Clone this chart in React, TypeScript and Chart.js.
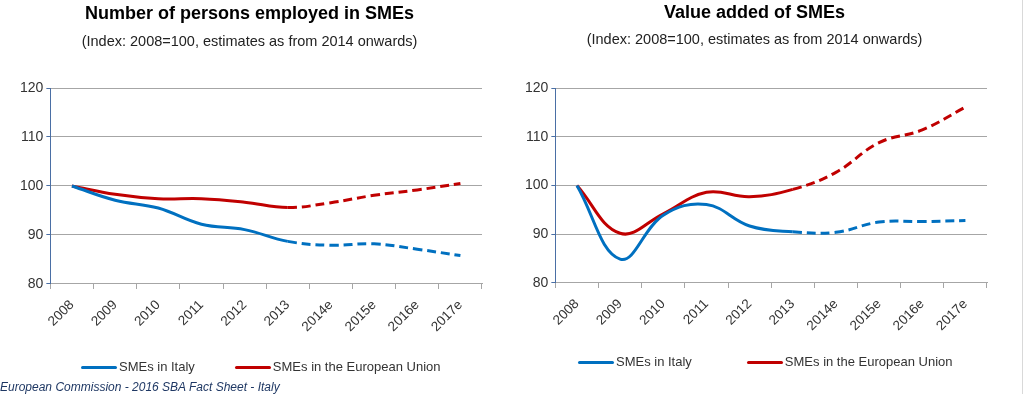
import React, { useEffect, useRef } from "react";
import { Chart, registerables } from "chart.js";

Chart.register(...registerables);

const categories = ["2008", "2009", "2010", "2011", "2012", "2013", "2014e", "2015e", "2016e", "2017e"];
const employmentItaly = [100, 97.1, 95.5, 92.2, 91.1, 88.7, 87.9, 88.2, 87.1, 85.8];
const employmentEU = [100, 98.3, 97.4, 97.4, 96.7, 95.6, 96.6, 98.1, 99.2, 100.5];
const valueAddedItaly = [100, 84.9, 93.9, 96.1, 91.7, 90.5, 90.4, 92.5, 92.6, 92.8];
const valueAddedEU = [100, 90.2, 94.2, 98.6, 97.7, 99.2, 102.7, 108.8, 111.4, 116.1];
const yMin = 80;
const yMax = 120;
const yStep = 10;
const seriesNames = ["SMEs in Italy", "SMEs in the European Union"];
const lastActualIndex = 5;

const FONT = "'Liberation Sans', Arial, sans-serif";
const BLUE = "#0070C0";
const RED = "#C00000";

type PanelProps = {
  width: number;
  height: number;
  title: string;
  subtitle: string;
  italy: number[];
  eu: number[];
  pad: { left: number; right: number; bottom: number };
  titlePad: { top: number; bottom: number };
  subPad: { top: number; bottom: number };
};

function Panel(props: PanelProps) {
  const ref = useRef<HTMLCanvasElement | null>(null);
  useEffect(() => {
    if (!ref.current) return;
    const seg = {
      borderDash: (ctx: any) => (ctx.p0DataIndex >= lastActualIndex ? [9, 5] : undefined),
    };
    const chart = new Chart(ref.current, {
      type: "line",
      data: {
        labels: categories,
        datasets: [
          {
            label: seriesNames[0],
            data: props.italy,
            borderColor: BLUE,
            backgroundColor: BLUE,
            borderWidth: 3,
            pointRadius: 0,
            tension: 0.4,
            segment: seg,
          },
          {
            label: seriesNames[1],
            data: props.eu,
            borderColor: RED,
            backgroundColor: RED,
            borderWidth: 3,
            pointRadius: 0,
            tension: 0.4,
            segment: seg,
          },
        ],
      },
      options: {
        responsive: false,
        animation: false,
        devicePixelRatio: 1,
        layout: { padding: { left: props.pad.left, right: props.pad.right, bottom: props.pad.bottom, top: 0 } },
        plugins: {
          legend: { display: false },
          tooltip: { enabled: false },
          title: {
            display: true,
            text: props.title,
            color: "#000",
            font: { family: FONT, size: 18, weight: "bold" },
            padding: props.titlePad,
          },
          subtitle: {
            display: true,
            text: props.subtitle,
            color: "#222",
            font: { family: FONT, size: 14.5 },
            padding: props.subPad,
          },
        },
        scales: {
          x: {
            offset: true,
            grid: {
              display: true,
              offset: true,
              drawOnChartArea: false,
              drawTicks: true,
              tickLength: 5,
              color: "#A6A6A6",
            },
            border: { color: "#A6A6A6", width: 1 },
            ticks: {
              color: "#333",
              font: { family: FONT, size: 13.5 },
              minRotation: 45,
              maxRotation: 45,
              padding: 8,
              autoSkip: false,
            },
          },
          y: {
            min: yMin,
            max: yMax,
            grid: {
              color: "#A6A6A6",
              tickColor: "#4A6FA5",
              tickLength: 4,
              lineWidth: 1,
            },
            border: { color: "#4A6FA5", width: 1 },
            ticks: {
              stepSize: yStep,
              color: "#333",
              font: { family: FONT, size: 14 },
              padding: 3,
            },
          },
        },
      },
    } as any);
    return () => chart.destroy();
  }, []);
  return <canvas ref={ref} width={props.width} height={props.height} style={{ display: "block" }} />;
}

function Legend({ left, top, gap }: { left: number; top: number; gap: number }) {
  const colors = [BLUE, RED];
  return (
    <div
      style={{
        position: "absolute",
        left,
        top,
        display: "flex",
        alignItems: "center",
        gap,
        fontFamily: FONT,
        fontSize: 13,
        color: "#333",
        lineHeight: "14px",
        whiteSpace: "nowrap",
      }}
    >
      {seriesNames.map((n, i) => (
        <div key={n} style={{ display: "flex", alignItems: "center" }}>
          <div style={{ width: 36, height: 3, borderRadius: 2, background: colors[i], marginRight: 2 }} />
          <span>{n}</span>
        </div>
      ))}
    </div>
  );
}

export default function App() {
  return (
    <div
      style={{
        position: "fixed",
        left: 0,
        top: 0,
        width: 1024,
        height: 394,
        background: "#fff",
        overflow: "hidden",
      }}
    >
      <div style={{ position: "absolute", left: 0, top: 0 }}>
        <Panel
          width={510}
          height={394}
          title="Number of persons employed in SMEs"
          subtitle="(Index: 2008=100, estimates as from 2014 onwards)"
          italy={employmentItaly}
          eu={employmentEU}
          pad={{ left: 17, right: 28, bottom: 51 }}
          titlePad={{ top: 3.2, bottom: 2 }}
          subPad={{ top: 6.5, bottom: 37.3 }}
        />
      </div>
      <div style={{ position: "absolute", left: 512, top: 0 }}>
        <Panel
          width={500}
          height={394}
          title="Value added of SMEs"
          subtitle="(Index: 2008=100, estimates as from 2014 onwards)"
          italy={valueAddedItaly}
          eu={valueAddedEU}
          pad={{ left: 10, right: 25, bottom: 52 }}
          titlePad={{ top: 2.2, bottom: 2 }}
          subPad={{ top: 5, bottom: 39.8 }}
        />
      </div>
      <Legend left={81} top={360} gap={40} />
      <Legend left={578} top={355} gap={55} />
      <div style={{ position: "absolute", left: 1022, top: 0, width: 1, height: 394, background: "#D9D9D9" }} />
      <div
        style={{
          position: "absolute",
          left: 0,
          top: 380,
          fontFamily: FONT,
          fontSize: 12,
          fontStyle: "italic",
          color: "#1F3864",
          lineHeight: "14px",
          whiteSpace: "nowrap",
        }}
      >
        European Commission - 2016 SBA Fact Sheet - Italy
      </div>
    </div>
  );
}
